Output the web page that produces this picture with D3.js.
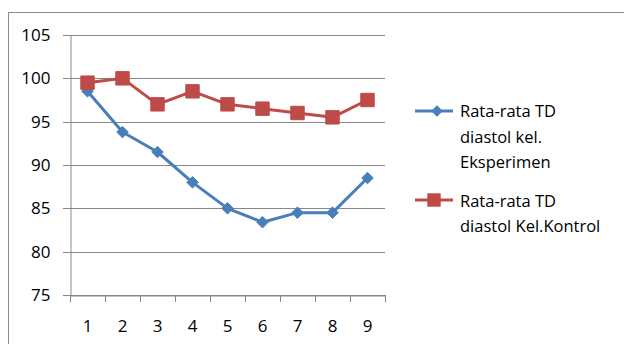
<!DOCTYPE html>
<html><head><meta charset="utf-8">
<script src="https://cdn.jsdelivr.net/npm/d3@7"></script>
<style>body{margin:0;background:#fff}svg{display:block}</style>
</head><body>
<script>
const categories = ["1","2","3","4","5","6","7","8","9"];
const seriesNames = ["Rata-rata TD diastol kel. Eksperimen", "Rata-rata TD diastol Kel.Kontrol"];
const legendLines = [["Rata-rata TD","diastol kel.","Eksperimen"],["Rata-rata TD","diastol Kel.Kontrol"]];
const eksperimen = [98.5, 93.8, 91.5, 88, 85, 83.4, 84.5, 84.5, 88.5];
const kontrol = [99.5, 100, 97, 98.5, 97, 96.5, 96, 95.5, 97.5];
const yTicks = [75, 80, 85, 90, 95, 100, 105];

const W = 624, H = 344;
const svg = d3.select("body").append("svg").attr("width", W).attr("height", H);
const font = "Open Sans, Liberation Sans, sans-serif";

svg.append("rect").attr("x", 8.5).attr("y", 12.5).attr("width", 700).attr("height", 400)
  .attr("fill", "#fff").attr("stroke", "#8c8c8c").attr("stroke-width", 1);

const x = d3.scaleBand().domain(categories).range([70, 385]);
const y = d3.scaleLinear().domain([75, 105]).range([295, 35]);

// gridlines
svg.append("g").selectAll("line").data(yTicks).join("line")
  .attr("x1", 63).attr("x2", 385)
  .attr("y1", d => Math.round(y(d)) + 0.5).attr("y2", d => Math.round(y(d)) + 0.5)
  .attr("stroke", "#878787").attr("stroke-width", 1);

// y axis
const yAxis = svg.append("g").attr("transform", "translate(70.5,0)")
  .call(d3.axisLeft(y).tickValues(yTicks).tickSize(0).tickPadding(20));
yAxis.select(".domain").attr("stroke", "#878787");
yAxis.selectAll("text").attr("font-family", font).attr("font-size", 17).attr("fill", "#000");

// x axis
const xAxis = svg.append("g").attr("transform", `translate(0,${Math.round(y(75)) + 0.5})`)
  .call(d3.axisBottom(x).tickSize(0).tickPadding(24));
xAxis.select(".domain").attr("stroke", "#878787");
xAxis.selectAll("text").attr("font-family", font).attr("font-size", 17).attr("fill", "#000");
// band boundary ticks
svg.append("g").selectAll("line").data(categories.concat(["end"])).join("line")
  .attr("x1", (d, i) => Math.round(70 + i * x.bandwidth()) + 0.5)
  .attr("x2", (d, i) => Math.round(70 + i * x.bandwidth()) + 0.5)
  .attr("y1", Math.round(y(75))).attr("y2", Math.round(y(75)) + 7)
  .attr("stroke", "#878787");

const cx = d => x(d) + x.bandwidth() / 2;
const colors = ["#4A7EBB", "#BE4B48"];
const datas = [eksperimen, kontrol];

datas.forEach((vals, si) => {
  const line = d3.line().x((d, i) => cx(categories[i])).y(d => y(d));
  svg.append("path").datum(vals).attr("d", line)
    .attr("fill", "none").attr("stroke", colors[si]).attr("stroke-width", 3).attr("stroke-linejoin", "round");
});
// markers
const sym = [d3.symbol().type(d3.symbolDiamond2).size(85), d3.symbol().type(d3.symbolSquare).size(180)];
[0, 1].forEach(si => {
  svg.append("g").selectAll("path").data(datas[si]).join("path")
    .attr("transform", (d, i) => `translate(${cx(categories[i])},${y(d)})`)
    .attr("d", sym[si]())
    .attr("fill", colors[si]).attr("stroke", colors[si]).attr("stroke-width", 1);
});

// legend
const legY = [111, 200];
const legBase = [[117, 143, 168], [207, 232]];
legendLines.forEach((lines, si) => {
  const g = svg.append("g");
  g.append("line").attr("x1", 415).attr("x2", 453).attr("y1", legY[si]).attr("y2", legY[si])
    .attr("stroke", colors[si]).attr("stroke-width", 3);
  g.append("path").attr("transform", `translate(${si === 0 ? 437 : 434},${legY[si]})`)
    .attr("d", sym[si]()).attr("fill", colors[si]);
  lines.forEach((t, li) => {
    g.append("text").attr("x", 460).attr("y", legBase[si][li])
      .attr("font-family", font).attr("font-size", 16.5).attr("fill", "#000").text(t);
  });
});
</script>
</body></html>
